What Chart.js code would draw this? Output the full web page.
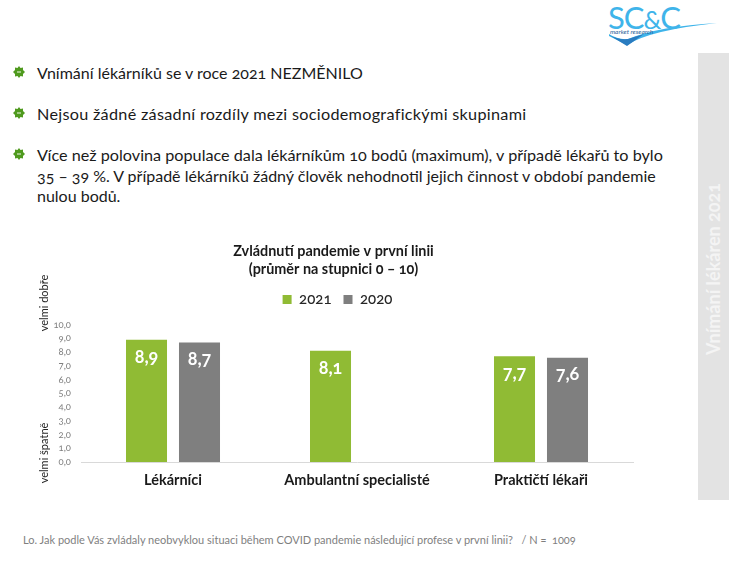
<!DOCTYPE html>
<html lang="cs">
<head>
<meta charset="utf-8">
<style>
html, body { margin: 0; padding: 0; background: #fff; }
body { width: 729px; height: 562px; position: relative; overflow: hidden; font-family: Lato, sans-serif; color: #1a1a1a; font-variant-numeric: oldstyle-nums; }
.t { position: absolute; white-space: nowrap; font-size: 16px; left: 37px; }
.bullet { position: absolute; left: 13px; width: 12px; height: 12px; }
#side { position: absolute; left: 698px; top: 53px; width: 31px; height: 447px; background: #e3e3e3; }
#sideText { position: absolute; left: 713px; top: 269px; transform: translate(-50%, -50%) rotate(-90deg); font-size: 18px; font-weight: 700; color: #f4f4f4; white-space: nowrap; }
#wrap { position: absolute; left: 0; top: 230px; width: 729px; height: 270px; }
canvas { display: block; }
</style>
</head>
<body>
<div id="side"></div>
<div id="sideText">Vnímání lékáren 2021</div>

<svg style="position:absolute;left:600px;top:20px" width="129" height="30">
  <path d="M9 16 L27 25 Q50 10 117 3 Q60 6 28 19 Q18 20 9 14 Z" fill="#3fb4ea"/>
  <path d="M9 15 Q18 20 28 19 Q34 17 44 14 L27 26 Z" fill="#2a7cc0"/>
</svg>
<div class="t" style="left:608px;top:-2px;font-size:31px;color:#3fb4ea;letter-spacing:-1px">SC<span style="font-size:25px">&amp;</span>C</div>
<div class="t" style="left:610px;top:28px;font-size:6.5px;font-style:italic;color:#1f5f99">market research</div>

<svg class="bullet" style="top:66px" viewBox="0 0 12 12"><path d="M6 0 L7.5 2 L10 1.5 L10 4 L12 6 L10 8 L10 10.5 L7.5 10 L6 12 L4.5 10 L2 10.5 L2 8 L0 6 L2 4 L2 1.5 L4.5 2 Z" fill="#4f9a1e"/><path d="M4 6 H8" stroke="#d8ecc8" stroke-width="1.2"/></svg>
<div class="t" style="top:63px">Vnímání lékárníků se v roce 2021 NEZMĚNILO</div>
<svg class="bullet" style="top:107px" viewBox="0 0 12 12"><path d="M6 0 L7.5 2 L10 1.5 L10 4 L12 6 L10 8 L10 10.5 L7.5 10 L6 12 L4.5 10 L2 10.5 L2 8 L0 6 L2 4 L2 1.5 L4.5 2 Z" fill="#4f9a1e"/><path d="M4 6 H8" stroke="#d8ecc8" stroke-width="1.2"/></svg>
<div class="t" style="top:104px;font-size:16.2px;letter-spacing:0.3px">Nejsou žádné zásadní rozdíly mezi sociodemografickými skupinami</div>
<svg class="bullet" style="top:148px" viewBox="0 0 12 12"><path d="M6 0 L7.5 2 L10 1.5 L10 4 L12 6 L10 8 L10 10.5 L7.5 10 L6 12 L4.5 10 L2 10.5 L2 8 L0 6 L2 4 L2 1.5 L4.5 2 Z" fill="#4f9a1e"/><path d="M4 6 H8" stroke="#d8ecc8" stroke-width="1.2"/></svg>
<div class="t" style="top:145px;font-size:16.2px">Více než polovina populace dala lékárníkům 10 bodů (maximum), v případě lékařů to bylo</div>
<div class="t" style="top:166px">35 – 39 %. V případě lékárníků žádný člověk nehodnotil jejich činnost v období pandemie</div>
<div class="t" style="top:186px">nulou bodů.</div>

<div id="wrap"><canvas id="chart" width="729" height="270"></canvas></div>

<div class="t" style="left:23px;top:533px;font-size:11px;color:#7f7f7f">Lo. Jak podle Vás zvládaly neobvyklou situaci během COVID pandemie následující profese v první linii?&nbsp;&nbsp; / N =&nbsp; 1009</div>

<script src="https://cdn.jsdelivr.net/npm/chart.js@4"></script>
<script>
var categories = ['Lékárníci', 'Ambulantní specialisté', 'Praktičtí lékaři'];
var values2021 = [8.9, 8.1, 7.7];
var values2020 = [8.7, null, 7.6];
var yTicks = [0, 1, 2, 3, 4, 5, 6, 7, 8, 9, 10];
var titleLines = ['Zvládnutí pandemie v první linii', '(průměr na stupnici 0 – 10)'];
var yNoteTop = 'velmi dobře';
var yNoteBottom = 'velmi špatně';

function comma(v, digits) {
    return v.toFixed(digits).replace('.', ',');
}

// value labels inside the top of each bar, y axis side notes
var extras = {
    id: 'extras',
    beforeInit: function (chart) {
        // more room under the legend
        var fit = chart.legend.fit;
        chart.legend.fit = function () {
            fit.call(chart.legend);
            this.height += 7.75;
        };
    },
    afterLayout: function (chart) {
        // legend sits a little right of the title
        chart.legend.left += 4;
        chart.legend.right += 4;
    },
    afterDatasetsDraw: function (chart) {
        var ctx = chart.ctx;
        ctx.save();
        ctx.fillStyle = 'white';
        ctx.font = '700 18px Lato';
        ctx.textAlign = 'center';
        ctx.textBaseline = 'middle';
        chart.data.datasets.forEach(function (ds, i) {
            chart.getDatasetMeta(i).data.forEach(function (bar, j) {
                if (ds.data[j] == null) return;
                ctx.fillText(comma(ds.data[j], 1), bar.x, bar.y + 17);
            });
        });
        ctx.fillStyle = '#262626';
        ctx.font = '11px Lato';
        [[yNoteTop, 73], [yNoteBottom, 223]].forEach(function (n) {
            ctx.save();
            ctx.translate(44, n[1]);
            ctx.rotate(-Math.PI / 2);
            ctx.fillText(n[0], 0, 0);
            ctx.restore();
        });
        ctx.restore();
    }
};

var barChart = new Chart('chart', {
    type: 'bar',
    data: {
        labels: categories,
        datasets: [{
            label: '2021',
            data: values2021,
            backgroundColor: '#90bb34'
        }, {
            label: '2020',
            data: values2020,
            backgroundColor: '#7f7f7f'
        }]
    },
    options: {
        responsive: false,
        animation: false,
        layout: { padding: { left: 34, right: 96, top: 0, bottom: 0 } },
        datasets: { bar: { categoryPercentage: 0.576, barPercentage: 0.774 } },
        scales: {
            y: {
                min: 0,
                max: 10,
                afterBuildTicks: function (axis) {
                    axis.ticks = yTicks.map(function (v) { return { value: v }; });
                },
                afterFit: function (axis) {
                    axis.width = 47;
                },
                grid: { display: false, drawTicks: false },
                border: { display: false },
                ticks: {
                    autoSkip: false,
                    color: '#7f7f7f',
                    font: { family: 'Lato', size: 9.5 },
                    padding: 10,
                    callback: function (v) { return comma(v, 1); }
                }
            },
            x: {
                afterFit: function (axis) {
                    axis.height = 38;
                },
                grid: { display: false, drawTicks: false },
                border: { color: '#d9d9d9', width: 1 },
                ticks: {
                    color: '#1a1a1a',
                    font: { family: 'Lato', size: 14.5, weight: '700' },
                    padding: 10
                }
            }
        },
        plugins: {
            legend: {
                position: 'top',
                labels: {
                    color: '#262626',
                    font: { family: 'Lato', size: 15, weight: '500' },
                    boxWidth: 9,
                    boxHeight: 9,
                    padding: 12
                }
            },
            title: {
                display: true,
                text: titleLines,
                color: '#1a1a1a',
                font: { family: 'Lato', size: 14.4, weight: '700', lineHeight: 1.3 },
                padding: { top: 11.6, bottom: 0.9 }
            },
            tooltip: { enabled: false }
        }
    },
    plugins: [extras]
});
</script>
</body>
</html>
